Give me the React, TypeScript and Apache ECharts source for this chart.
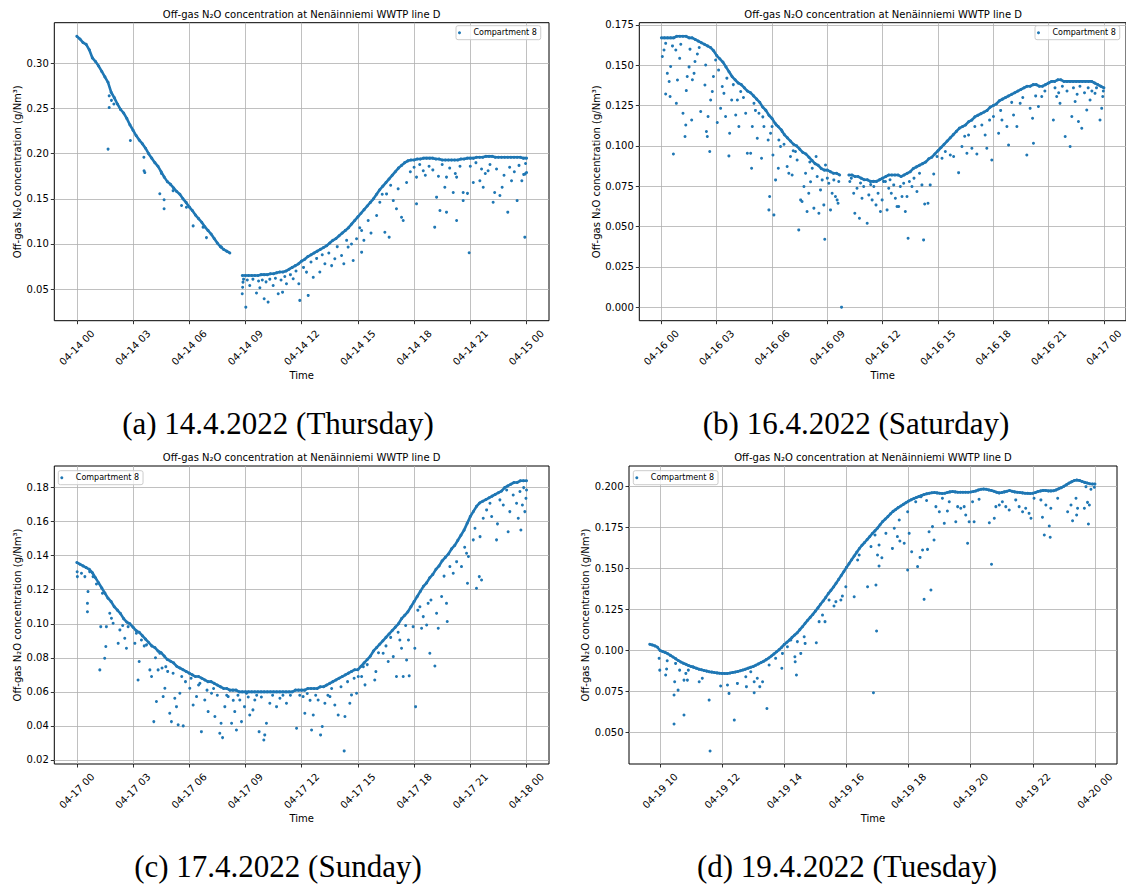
import React, { useEffect, useRef } from "react";
import * as echarts from "echarts";

// ---------------- data ----------------
const SERIES_NAME = "Compartment 8";
const TITLE = "Off-gas N\u2082O concentration at Nen\u00e4inniemi WWTP line D";
const Y_NAME = "Off-gas N\u2082O concentration (g/Nm\u00b3)";
const X_NAME = "Time";

const STEP10 = 1 / 6; // 10-minute samples, hours
const STEP5 = 1 / 12; // 5-minute samples, hours

// (a) 14.4.2022 main trace
const mainA1Start = 0;
const mainA1 = [
  0.330, 0.327, 0.323, 0.321, 0.315, 0.306,
  0.302, 0.297, 0.291, 0.285, 0.279, 0.268,
  0.262, 0.255, 0.249, 0.245, 0.239, 0.232,
  0.226, 0.220, 0.215, 0.211, 0.206, 0.200,
  0.195, 0.190, 0.186, 0.180, 0.174, 0.169,
  0.166, 0.162, 0.158, 0.155, 0.150, 0.146,
  0.141, 0.137, 0.132, 0.128, 0.124, 0.119,
  0.115, 0.111, 0.106, 0.101, 0.097, 0.094,
  0.092, 0.090,
];
const mainA2Start = 8 + 50 / 60;
const mainA2 = [
  0.065,
  0.065, 0.065, 0.065, 0.065, 0.065, 0.066,
  0.066, 0.066, 0.067, 0.067, 0.068, 0.069,
  0.069, 0.070, 0.072, 0.074, 0.076, 0.078,
  0.081, 0.083, 0.086, 0.088, 0.090, 0.092,
  0.094, 0.096, 0.098, 0.101, 0.104, 0.106,
  0.109, 0.112, 0.115, 0.118, 0.122, 0.126,
  0.130, 0.134, 0.138, 0.142, 0.146, 0.150,
  0.155, 0.160, 0.164, 0.168, 0.172, 0.176,
  0.180, 0.184, 0.187, 0.190, 0.192, 0.193,
  0.193, 0.194, 0.194, 0.195, 0.195, 0.195,
  0.195, 0.194, 0.194, 0.193, 0.193, 0.193,
  0.193, 0.193, 0.193, 0.194, 0.194, 0.195,
  0.195, 0.195, 0.196, 0.196, 0.196, 0.197,
  0.197, 0.197, 0.196, 0.196, 0.196, 0.196,
  0.196, 0.196, 0.196, 0.196, 0.196, 0.195,
  0.195,
];
const outA = [
  [1.67, 0.205], [1.73, 0.251], [1.73, 0.264], [1.85, 0.259], [1.98, 0.255], [2.86, 0.2145], [3.58, 0.196], [3.59, 0.181], [3.63, 0.179], [4.43, 0.1555], [4.52, 0.178], [4.66, 0.149], [4.66, 0.139], [5.14, 0.159], [5.59, 0.1426], [5.85, 0.1407], [6.21, 0.12], [6.74, 0.1186], [6.92, 0.107], [7.72, 0.0965],
  [8.83, 0.0448], [8.85, 0.052], [8.87, 0.0577], [8.9, 0.061], [9.02, 0.03], [9.1, 0.06], [9.23, 0.054], [9.4, 0.061], [9.59, 0.0456], [9.7, 0.059], [9.77, 0.0515], [9.9, 0.06], [10.0, 0.0393], [10.1, 0.058], [10.21, 0.0356], [10.3, 0.061], [10.48, 0.054], [10.6, 0.062], [10.75, 0.0448], [10.9, 0.06], [10.98, 0.0466], [11.1, 0.064], [11.19, 0.056], [11.4, 0.066], [11.55, 0.0614], [11.7, 0.07], [11.85, 0.056], [11.9, 0.0375], [12.1, 0.074], [12.26, 0.0688], [12.35, 0.043], [12.5, 0.08], [12.62, 0.063], [12.8, 0.084], [12.97, 0.069], [13.1, 0.088], [13.24, 0.078], [13.45, 0.09], [13.6, 0.076], [13.77, 0.0836], [13.9, 0.097], [14.13, 0.0872], [14.25, 0.078], [14.4, 0.104], [14.48, 0.0965], [14.66, 0.1], [14.75, 0.0817], [14.93, 0.1057], [15.1, 0.118], [15.2, 0.0909], [15.2, 0.1149], [15.32, 0.104], [15.55, 0.126], [15.7, 0.112], [16.0, 0.1315], [16.17, 0.1462], [16.3, 0.155], [16.44, 0.113], [16.53, 0.1554], [16.67, 0.1075], [16.75, 0.165], [16.89, 0.148], [17.06, 0.139], [17.15, 0.161], [17.33, 0.1296], [17.42, 0.126], [17.6, 0.168], [17.8, 0.18], [18.0, 0.185], [18.13, 0.1444], [18.13, 0.174], [18.3, 0.188], [18.49, 0.181], [18.6, 0.176], [18.8, 0.186], [19.0, 0.182], [19.1, 0.1186], [19.2, 0.1518], [19.3, 0.175], [19.38, 0.137], [19.5, 0.188], [19.64, 0.1628], [19.73, 0.1352], [19.73, 0.174], [19.9, 0.184], [20.09, 0.157], [20.2, 0.178], [20.27, 0.126], [20.27, 0.174], [20.45, 0.186], [20.62, 0.148], [20.62, 0.157], [20.85, 0.156], [20.94, 0.0902], [21.0, 0.186], [21.16, 0.168], [21.3, 0.19], [21.51, 0.17], [21.6, 0.183], [21.69, 0.1628], [21.8, 0.178], [21.95, 0.181], [22.05, 0.188], [22.22, 0.1462], [22.3, 0.157], [22.4, 0.183], [22.58, 0.1536], [22.7, 0.1628], [22.8, 0.176], [23.0, 0.1352], [23.1, 0.185], [23.2, 0.17], [23.35, 0.18], [23.5, 0.148], [23.6, 0.187], [23.75, 0.17], [23.85, 0.177], [23.91, 0.1075], [23.93, 0.1776], [24.0, 0.179], [23.95, 0.189],
];

// (b) 16.4.2022 main trace
const mainB1Start = 0;
const mainB1 = [
  0.167, 0.167, 0.167, 0.167, 0.167, 0.168,
  0.168, 0.168, 0.168, 0.167, 0.167, 0.166,
  0.165, 0.164, 0.163, 0.162, 0.161, 0.159,
  0.156, 0.154, 0.152, 0.149, 0.146, 0.143,
  0.141, 0.139, 0.138, 0.136, 0.134, 0.133,
  0.131, 0.129, 0.127, 0.124, 0.122, 0.119,
  0.117, 0.114, 0.112, 0.110, 0.107, 0.105,
  0.103, 0.101, 0.100, 0.098, 0.096, 0.095,
  0.093, 0.091, 0.089, 0.088, 0.086, 0.085,
  0.085, 0.084, 0.083, 0.083, 0.082,
];
const mainB2Start = 10 + 10 / 60;
const mainB2 = [
  0.082, 0.082, 0.081, 0.081, 0.080,
  0.079, 0.079, 0.078, 0.078, 0.078, 0.079,
  0.080, 0.081, 0.082, 0.082, 0.082, 0.082,
  0.081, 0.082, 0.083, 0.084, 0.086, 0.087,
  0.088, 0.089, 0.090, 0.092, 0.093, 0.095,
  0.097, 0.099, 0.101, 0.103, 0.105, 0.107,
  0.109, 0.111, 0.112, 0.113, 0.115, 0.116,
  0.118, 0.119, 0.120, 0.121, 0.122, 0.124,
  0.125, 0.126, 0.128, 0.129, 0.130, 0.131,
  0.132, 0.133, 0.134, 0.135, 0.136, 0.137,
  0.137, 0.138, 0.138, 0.137, 0.137, 0.138,
  0.139, 0.140, 0.140, 0.141, 0.141, 0.140,
  0.140, 0.140, 0.140, 0.140, 0.140, 0.140,
  0.140, 0.140, 0.140, 0.139, 0.138, 0.137,
  0.136,
];
const outB = [
  [0.05, 0.1554], [0.14, 0.1595], [0.23, 0.1636], [0.32, 0.145], [0.23, 0.1322], [0.47, 0.1306], [0.42, 0.1399], [0.5, 0.1492], [0.65, 0.095], [0.78, 0.1595], [0.81, 0.1264], [0.87, 0.1409], [0.99, 0.1543], [0.6, 0.162], [1.05, 0.163], [1.17, 0.1202], [1.28, 0.1058], [1.32, 0.113], [1.35, 0.1343], [1.4, 0.143], [1.5, 0.149], [1.55, 0.16], [1.64, 0.1161], [1.68, 0.141], [1.77, 0.145], [1.82, 0.1523], [1.95, 0.157], [2.05, 0.161], [2.13, 0.1213], [2.36, 0.1378], [2.4, 0.1502], [2.44, 0.1089], [2.49, 0.1058], [2.53, 0.1182], [2.62, 0.0965], [2.67, 0.1285], [2.76, 0.1337], [2.82, 0.143], [2.94, 0.1533], [3.03, 0.1145], [3.1, 0.147], [3.21, 0.1233], [3.3, 0.1368], [3.39, 0.1326], [3.48, 0.1182], [3.55, 0.142], [3.66, 0.0938], [3.7, 0.1078], [3.81, 0.1285], [3.9, 0.138], [4.03, 0.1192], [4.12, 0.1285], [4.2, 0.112], [4.3, 0.1337], [4.45, 0.13], [4.57, 0.1202], [4.66, 0.0954], [4.84, 0.0954], [4.89, 0.0861], [4.93, 0.112], [5.02, 0.1264], [5.1, 0.122], [5.2, 0.1047], [5.29, 0.1202], [5.43, 0.0923], [5.5, 0.118], [5.56, 0.112], [5.65, 0.1223], [5.79, 0.1037], [5.83, 0.0603], [5.87, 0.0686], [5.92, 0.1078], [6.0, 0.112], [6.05, 0.0944], [6.1, 0.0572], [6.19, 0.0789], [6.23, 0.113], [6.34, 0.0861], [6.37, 0.1037], [6.46, 0.0996], [6.55, 0.1089], [6.65, 0.101], [6.82, 0.0872], [6.91, 0.083], [7.0, 0.0934], [7.09, 0.082], [7.15, 0.097], [7.27, 0.0965], [7.36, 0.0913], [7.45, 0.0479], [7.55, 0.0665], [7.63, 0.0655], [7.73, 0.0748], [7.82, 0.083], [7.9, 0.0593], [7.99, 0.0706], [8.05, 0.09], [8.09, 0.0778], [8.18, 0.0861], [8.27, 0.0614], [8.39, 0.0934], [8.45, 0.081], [8.54, 0.0582], [8.63, 0.0727], [8.72, 0.0789], [8.81, 0.0634], [8.86, 0.0421], [8.9, 0.0882], [9.0, 0.08], [9.08, 0.0768], [9.17, 0.0603], [9.26, 0.0706], [9.35, 0.0789], [9.44, 0.0686], [9.53, 0.0665], [9.58, 0.0644], [9.62, 0.0779], [9.77, 0.0],
  [10.22, 0.0779], [10.3, 0.08], [10.43, 0.0706], [10.49, 0.0582], [10.61, 0.0737], [10.74, 0.0551], [10.8, 0.077], [10.88, 0.0675], [10.97, 0.0748], [11.16, 0.052], [11.25, 0.0696], [11.35, 0.076], [11.43, 0.0665], [11.52, 0.0748], [11.64, 0.0634], [11.75, 0.0706], [11.88, 0.0593], [11.97, 0.0665], [12.05, 0.078], [12.15, 0.0779], [12.24, 0.0603], [12.33, 0.0737], [12.4, 0.079], [12.47, 0.0706], [12.6, 0.0758], [12.69, 0.0675], [12.78, 0.0624], [12.87, 0.0624], [12.96, 0.0748], [13.05, 0.0686], [13.14, 0.0768], [13.23, 0.0593], [13.32, 0.0686], [13.38, 0.0427], [13.45, 0.0779], [13.59, 0.0748], [13.7, 0.08], [13.86, 0.0717], [14.0, 0.083], [14.13, 0.0758], [14.22, 0.0417], [14.28, 0.064], [14.46, 0.0644], [14.58, 0.0758], [14.77, 0.0826], [14.95, 0.0934], [15.22, 0.0923], [15.4, 0.0965], [15.67, 0.0944], [15.85, 0.0934], [16.12, 0.0834], [16.3, 0.0996], [16.45, 0.106], [16.57, 0.0954], [16.66, 0.1068], [16.84, 0.0985], [17.0, 0.112], [17.11, 0.095], [17.38, 0.113], [17.56, 0.1068], [17.65, 0.0985], [17.8, 0.116], [17.92, 0.0913], [18.01, 0.1182], [18.29, 0.1078], [18.4, 0.122], [18.47, 0.1161], [18.74, 0.112], [18.83, 0.1006], [19.0, 0.127], [19.1, 0.1192], [19.28, 0.112], [19.46, 0.1264], [19.6, 0.13], [19.82, 0.0944], [20.0, 0.1233], [20.13, 0.1171], [20.18, 0.1016], [20.3, 0.131], [20.45, 0.1244], [20.63, 0.1306], [20.8, 0.134], [21.26, 0.1161], [21.35, 0.136], [21.44, 0.1306], [21.55, 0.133], [21.62, 0.1264], [21.75, 0.137], [21.9, 0.1058], [22.0, 0.134], [22.17, 0.0996], [22.26, 0.1182], [22.35, 0.136], [22.44, 0.1275], [22.55, 0.132], [22.62, 0.1151], [22.7, 0.137], [22.8, 0.1109], [22.95, 0.133], [23.07, 0.1223], [23.15, 0.136], [23.25, 0.1285], [23.35, 0.134], [23.52, 0.1326], [23.6, 0.136], [23.79, 0.1161], [23.88, 0.1233], [23.94, 0.1306], [23.97, 0.134],
];

// (c) 17.4.2022 main trace
const mainCStart = 0;
const mainC = [
  0.136, 0.135, 0.134, 0.133, 0.132, 0.130,
  0.127, 0.124, 0.121, 0.118, 0.115, 0.113,
  0.110, 0.108, 0.106, 0.103, 0.101, 0.100,
  0.098, 0.096, 0.095, 0.093, 0.091, 0.089,
  0.087, 0.086, 0.084, 0.083, 0.081, 0.079,
  0.078, 0.077, 0.075, 0.074, 0.073, 0.072,
  0.071, 0.070, 0.069, 0.069, 0.068, 0.067,
  0.066, 0.066, 0.065, 0.064, 0.063, 0.062,
  0.062, 0.061, 0.061, 0.061, 0.060, 0.060,
  0.060, 0.060, 0.060, 0.060, 0.060, 0.060,
  0.060, 0.060, 0.060, 0.060, 0.060, 0.060,
  0.060, 0.060, 0.060, 0.060, 0.061, 0.061,
  0.061, 0.061, 0.062, 0.062, 0.062, 0.062,
  0.063, 0.063, 0.064, 0.065, 0.066, 0.067,
  0.068, 0.069, 0.070, 0.071, 0.072, 0.073,
  0.073, 0.075, 0.077, 0.079, 0.081, 0.084,
  0.086, 0.088, 0.090, 0.092, 0.094, 0.096,
  0.098, 0.100, 0.103, 0.105, 0.107, 0.110,
  0.113, 0.116, 0.119, 0.122, 0.124, 0.127,
  0.129, 0.132, 0.134, 0.137, 0.139, 0.141,
  0.144, 0.146, 0.149, 0.152, 0.155, 0.159,
  0.163, 0.166, 0.169, 0.171, 0.172, 0.173,
  0.174, 0.175, 0.176, 0.177, 0.178, 0.180,
  0.181, 0.182, 0.183, 0.183, 0.184, 0.184,
  0.184,
];
const outC = [
  [0.02, 0.1306], [0.03, 0.1277], [0.25, 0.1297], [0.43, 0.1277], [0.57, 0.1071], [0.57, 0.112], [0.6, 0.1189], [0.69, 0.1306], [0.87, 0.1277], [1.05, 0.1234], [1.23, 0.0729], [1.28, 0.0983], [1.37, 0.1179], [1.49, 0.0797], [1.55, 0.0866], [1.58, 0.0983], [1.76, 0.1062], [1.85, 0.1032], [1.94, 0.1003], [2.21, 0.0885], [2.3, 0.0964], [2.45, 0.099], [2.56, 0.0915], [2.65, 0.0856], [2.74, 0.0983], [3.1, 0.0885], [3.18, 0.0944], [3.27, 0.067], [3.33, 0.0778], [3.45, 0.0905], [3.6, 0.087], [3.72, 0.0876], [3.9, 0.0729], [3.99, 0.069], [4.11, 0.0425], [4.2, 0.08], [4.25, 0.0543], [4.34, 0.0729], [4.43, 0.0827], [4.55, 0.074], [4.61, 0.0572], [4.7, 0.0621], [4.75, 0.0748], [4.85, 0.072], [4.96, 0.0474], [5.05, 0.0425], [5.14, 0.0709], [5.23, 0.0562], [5.32, 0.0513], [5.41, 0.0406], [5.5, 0.0592], [5.6, 0.069], [5.68, 0.04], [5.8, 0.066], [6.03, 0.0621], [6.1, 0.068], [6.21, 0.0523], [6.39, 0.0572], [6.5, 0.064], [6.57, 0.065], [6.65, 0.0366], [6.83, 0.0552], [6.95, 0.061], [7.01, 0.0484], [7.19, 0.0592], [7.3, 0.062], [7.37, 0.0455], [7.5, 0.058], [7.63, 0.0357], [7.7, 0.0415], [7.78, 0.0331], [7.9, 0.0513], [8.0, 0.058], [8.08, 0.0572], [8.26, 0.0415], [8.35, 0.055], [8.43, 0.0484], [8.52, 0.0376], [8.6, 0.058], [8.7, 0.0552], [8.79, 0.0425], [8.95, 0.0513], [9.06, 0.0592], [9.15, 0.057], [9.23, 0.0464], [9.4, 0.0494], [9.5, 0.0552], [9.6, 0.058], [9.73, 0.0366], [9.85, 0.057], [9.98, 0.0317], [10.03, 0.0347], [10.12, 0.0415], [10.3, 0.0533], [10.45, 0.058], [10.66, 0.0513], [10.84, 0.0562], [11.0, 0.058], [11.19, 0.0533], [11.4, 0.058], [11.73, 0.0386], [11.9, 0.058], [12.08, 0.0572], [12.17, 0.0474], [12.3, 0.059], [12.45, 0.055], [12.53, 0.0376], [12.62, 0.0464], [12.75, 0.058], [12.88, 0.0552], [13.01, 0.0347], [13.1, 0.0396], [13.24, 0.0533], [13.4, 0.058], [13.51, 0.0572], [13.6, 0.062], [13.77, 0.0523], [13.95, 0.0464], [14.1, 0.063], [14.27, 0.0253], [14.31, 0.0455], [14.45, 0.066], [14.57, 0.0533], [14.66, 0.0582], [14.8, 0.068], [14.93, 0.0592], [15.02, 0.069], [15.2, 0.069], [15.29, 0.0748], [15.38, 0.0641], [15.5, 0.076], [15.96, 0.0719], [15.9, 0.067], [16.1, 0.083], [16.35, 0.0827], [16.5, 0.087], [16.62, 0.0778], [16.75, 0.092], [16.89, 0.0807], [17.06, 0.069], [17.15, 0.095], [17.24, 0.0905], [17.33, 0.0856], [17.42, 0.069], [17.55, 0.099], [17.6, 0.0787], [17.7, 0.0905], [17.74, 0.0694], [17.95, 0.0983], [18.04, 0.0856], [18.08, 0.0513], [18.2, 0.108], [18.31, 0.11], [18.4, 0.0974], [18.49, 0.1042], [18.67, 0.0993], [18.75, 0.112], [18.84, 0.0827], [18.9, 0.114], [19.11, 0.0752], [19.2, 0.1062], [19.29, 0.0974], [19.47, 0.116], [19.6, 0.128], [19.73, 0.112], [19.77, 0.1013], [19.91, 0.1336], [20.09, 0.1297], [20.27, 0.1365], [20.53, 0.1336], [20.7, 0.145], [20.8, 0.1414], [20.85, 0.1238], [20.9, 0.1395], [21.16, 0.1493], [21.25, 0.1561], [21.33, 0.1209], [21.48, 0.1277], [21.6, 0.1257], [21.52, 0.1512], [21.69, 0.162], [21.87, 0.1669], [22.05, 0.1708], [22.14, 0.163], [22.4, 0.1493], [22.45, 0.1587], [22.58, 0.1728], [22.76, 0.1698], [22.94, 0.1786], [23.02, 0.1541], [23.11, 0.1659], [23.29, 0.1757], [23.47, 0.1708], [23.56, 0.162], [23.65, 0.1777], [23.7, 0.1551], [23.78, 0.1698], [23.91, 0.1659], [23.97, 0.1737], [24.0, 0.1786], [23.85, 0.18],
];

// (d) 19.4.2022 main trace (5-minute samples)
const mainDStart = 9 + 40 / 60;
const mainD = [
  0.1036, 0.1032, 0.1026, 0.1018,
  0.0998, 0.0992, 0.0986, 0.0978, 0.0968, 0.0958, 0.0948, 0.0937, 0.0928, 0.0920, 0.0914, 0.0906,
  0.0900, 0.0895, 0.0890, 0.0884, 0.0880, 0.0876, 0.0872, 0.0868, 0.0866, 0.0863, 0.0861, 0.0859,
  0.0858, 0.0857, 0.0858, 0.0860, 0.0863, 0.0866, 0.0870, 0.0874, 0.0879, 0.0884, 0.0890, 0.0895,
  0.0900, 0.0908, 0.0916, 0.0924, 0.0932, 0.0942, 0.0952, 0.0964, 0.0977, 0.0990, 0.1003, 0.1018,
  0.1035, 0.1048, 0.1062, 0.1078, 0.1092, 0.1106, 0.1125, 0.1143, 0.1163, 0.1182, 0.1200, 0.1218,
  0.1238, 0.1258, 0.1280, 0.1300, 0.1322, 0.1345, 0.1365, 0.1385, 0.1408, 0.1432, 0.1456, 0.1480,
  0.1505, 0.1528, 0.1552, 0.1575, 0.1598, 0.1620, 0.1640, 0.1657, 0.1675, 0.1693, 0.1712, 0.1728,
  0.1745, 0.1765, 0.1785, 0.1800, 0.1815, 0.1832, 0.1847, 0.1858, 0.1870, 0.1880, 0.1890, 0.1900,
  0.1910, 0.1918, 0.1925, 0.1932, 0.1938, 0.1944, 0.1950, 0.1954, 0.1958, 0.1961, 0.1962, 0.1960,
  0.1958, 0.1956, 0.1958, 0.1962, 0.1966, 0.1968, 0.1966, 0.1964, 0.1964, 0.1964, 0.1964, 0.1964,
  0.1965, 0.1968, 0.1972, 0.1978, 0.1982, 0.1984, 0.1982, 0.1978, 0.1974, 0.1970, 0.1964, 0.1960,
  0.1962, 0.1966, 0.1970, 0.1974, 0.1970, 0.1966, 0.1964, 0.1962, 0.1960, 0.1958, 0.1957, 0.1956,
  0.1958, 0.1962, 0.1968, 0.1972, 0.1975, 0.1974, 0.1972, 0.1972, 0.1973, 0.1978, 0.1985, 0.1992,
  0.2000, 0.2010, 0.2020, 0.2028, 0.2035, 0.2038, 0.2036, 0.2030, 0.2024, 0.2020, 0.2016, 0.2014,
  0.2014,
];
const outD = [
  [9.97, 0.095], [9.99, 0.0878], [10.18, 0.0848], [10.21, 0.0885], [10.23, 0.0935], [10.45, 0.0726], [10.47, 0.0807], [10.45, 0.0549], [10.5, 0.0919], [10.58, 0.0756], [10.63, 0.0878], [10.77, 0.0604], [10.77, 0.0817], [10.83, 0.0858], [10.88, 0.0817], [10.91, 0.0878], [11.06, 0.0899], [11.26, 0.0807], [11.36, 0.0828], [11.58, 0.0695], [11.61, 0.0384], [11.95, 0.0781], [12.17, 0.0787], [12.22, 0.0736], [12.39, 0.0573], [12.49, 0.0797], [12.76, 0.0838], [12.78, 0.0777], [12.92, 0.0868], [13.03, 0.074], [13.03, 0.0807], [13.13, 0.0828], [13.21, 0.0777], [13.3, 0.0807], [13.44, 0.0644], [13.51, 0.0909], [13.72, 0.095], [13.92, 0.0889], [13.94, 0.098], [14.1, 0.1021], [14.21, 0.1062], [14.34, 0.096], [14.39, 0.0848], [14.35, 0.0929], [14.42, 0.1052], [14.53, 0.098], [14.64, 0.1082], [14.67, 0.1041], [15.03, 0.1045], [15.12, 0.1174], [15.23, 0.1214], [15.31, 0.1174], [15.44, 0.1306], [15.6, 0.1269], [15.66, 0.1296], [15.82, 0.1306], [15.87, 0.133], [15.98, 0.1387], [16.25, 0.1326], [16.36, 0.155], [16.41, 0.1581], [16.68, 0.1387], [16.79, 0.1632], [16.87, 0.074], [16.92, 0.1703], [16.95, 0.1398], [16.97, 0.1117], [17.0, 0.1581], [17.05, 0.1642], [17.05, 0.1514], [17.14, 0.1564], [17.27, 0.1713], [17.48, 0.1621], [17.54, 0.1744], [17.64, 0.1693], [17.7, 0.1794], [17.72, 0.1666], [17.86, 0.1652], [17.97, 0.1489], [17.97, 0.1845], [18.02, 0.1713], [18.1, 0.1601], [18.23, 0.1906], [18.29, 0.151], [18.37, 0.1566], [18.4, 0.1937], [18.45, 0.1611], [18.5, 0.131], [18.58, 0.1913], [18.61, 0.1615], [18.66, 0.1723], [18.72, 0.1367], [18.77, 0.1754], [18.82, 0.1672], [18.88, 0.1876], [18.99, 0.1845], [19.09, 0.1927], [19.15, 0.1774], [19.25, 0.1849], [19.31, 0.1906], [19.52, 0.1784], [19.58, 0.1876], [19.68, 0.1866], [19.79, 0.1876], [19.84, 0.1825], [19.9, 0.1652], [19.95, 0.1784], [20.06, 0.1906], [20.11, 0.1784], [20.27, 0.1921], [20.6, 0.1778], [20.67, 0.1524], [20.76, 0.1805], [20.81, 0.1876], [20.92, 0.1886], [21.02, 0.1906], [21.13, 0.1876], [21.24, 0.1855], [21.45, 0.1917], [21.56, 0.1876], [21.67, 0.1845], [21.77, 0.1866], [21.88, 0.1835], [21.94, 0.1805], [22.04, 0.1927], [22.26, 0.1917], [22.31, 0.1811], [22.37, 0.1703], [22.42, 0.1886], [22.53, 0.1758], [22.56, 0.1689], [22.58, 0.1866], [22.8, 0.1927], [23.12, 0.1845], [23.23, 0.1886], [23.28, 0.179], [23.39, 0.1927], [23.41, 0.1825], [23.44, 0.1866], [23.66, 0.1866], [23.71, 0.1998], [23.76, 0.1902], [23.79, 0.177], [23.82, 0.1886], [23.87, 0.1982], [23.98, 0.1994],
];

// ticks and labels
const xTicksDay = [0, 3, 6, 9, 12, 15, 18, 21, 24];
const xLabelsA = ["04-14 00", "04-14 03", "04-14 06", "04-14 09", "04-14 12", "04-14 15", "04-14 18", "04-14 21", "04-15 00"];
const xLabelsB = ["04-16 00", "04-16 03", "04-16 06", "04-16 09", "04-16 12", "04-16 15", "04-16 18", "04-16 21", "04-17 00"];
const xLabelsC = ["04-17 00", "04-17 03", "04-17 06", "04-17 09", "04-17 12", "04-17 15", "04-17 18", "04-17 21", "04-18 00"];
const xTicksD = [10, 12, 14, 16, 18, 20, 22, 24];
const xLabelsD = ["04-19 10", "04-19 12", "04-19 14", "04-19 16", "04-19 18", "04-19 20", "04-19 22", "04-20 00"];

const yTicksA = [0.05, 0.1, 0.15, 0.2, 0.25, 0.3];
const yLabelsA = ["0.05", "0.10", "0.15", "0.20", "0.25", "0.30"];
const yTicksB = [0, 0.025, 0.05, 0.075, 0.1, 0.125, 0.15, 0.175];
const yLabelsB = ["0.000", "0.025", "0.050", "0.075", "0.100", "0.125", "0.150", "0.175"];
const yTicksC = [0.02, 0.04, 0.06, 0.08, 0.1, 0.12, 0.14, 0.16, 0.18];
const yLabelsC = ["0.02", "0.04", "0.06", "0.08", "0.10", "0.12", "0.14", "0.16", "0.18"];
const yTicksD = [0.05, 0.075, 0.1, 0.125, 0.15, 0.175, 0.2];
const yLabelsD = ["0.050", "0.075", "0.100", "0.125", "0.150", "0.175", "0.200"];

const captions = [
  "(a) 14.4.2022 (Thursday)",
  "(b) 16.4.2022 (Saturday)",
  "(c) 17.4.2022 (Sunday)",
  "(d) 19.4.2022 (Tuesday)",
];

// ---------------- helpers ----------------
const sampled = (start: number, step: number, vals: number[]) =>
  vals.map((v, i) => [start + i * step, v]);

const lookup = (ticks: number[], labels: string[]) => (v: number) => {
  const i = ticks.findIndex((t) => Math.abs(t - v) < 1e-6);
  return i >= 0 ? labels[i] : "";
};

const SANS = "DejaVu Sans";
const SERIF = "Liberation Serif";
const BLUE = "#1f77b4";

const traceA1 = sampled(mainA1Start, STEP10, mainA1);
const traceA2 = sampled(mainA2Start, STEP10, mainA2);
const traceB1 = sampled(mainB1Start, STEP10, mainB1);
const traceB2 = sampled(mainB2Start, STEP10, mainB2);
const traceC = sampled(mainCStart, STEP10, mainC);
const traceD = sampled(mainDStart, STEP5, mainD);

const panels = [
  {
    traces: [traceA1, traceA2], extra: outA,
    grid: { left: 54.3, top: 22.7, width: 494.7, height: 298 },
    x: [-1.2, 25.2], y: [0.015, 0.345],
    xTicks: xTicksDay, xLabels: xLabelsA, yTicks: yTicksA, yLabels: yLabelsA,
    yGap: 32, legend: { left: 456, top: 25.7 }, cap: { x: 278, y: 423 },
  },
  {
    traces: [traceB1, traceB2], extra: outB,
    grid: { left: 639.3, top: 22.7, width: 487.7, height: 298 },
    x: [-1.2, 25.2], y: [-0.0084, 0.1764],
    xTicks: xTicksDay, xLabels: xLabelsB, yTicks: yTicksB, yLabels: yLabelsB,
    yGap: 38, legend: { left: 1035, top: 25.7 }, cap: { x: 856, y: 423 },
  },
  {
    traces: [traceC], extra: outC,
    grid: { left: 54.3, top: 466, width: 494.7, height: 298 },
    x: [-1.2, 25.2], y: [0.0176, 0.1927],
    xTicks: xTicksDay, xLabels: xLabelsC, yTicks: yTicksC, yLabels: yLabelsC,
    yGap: 32, legend: { left: 58.3, top: 470.7 }, cap: { x: 278, y: 866 },
  },
  {
    traces: [traceD], extra: outD,
    grid: { left: 629, top: 466, width: 488, height: 298 },
    x: [9.0, 24.71], y: [0.0305, 0.2124],
    xTicks: xTicksD, xLabels: xLabelsD, yTicks: yTicksD, yLabels: yLabelsD,
    yGap: 38, legend: { left: 633.3, top: 470.7 }, cap: { x: 847, y: 866 },
  },
];

function buildOption() {
  const text = (x: number, y: number, t: string, size: number, family: string) => ({
    type: "text",
    x,
    y,
    silent: true,
    style: {
      text: t,
      fill: "#000",
      fontSize: size,
      fontFamily: family,
      align: "center",
      verticalAlign: "middle",
      textAlign: "center",
      textVerticalAlign: "middle",
    },
  });

  const series: any[] = [];
  panels.forEach((p, i) => {
    p.traces.forEach((tr) => {
      series.push({
        type: "line",
        name: "trace",
        xAxisIndex: i,
        yAxisIndex: i,
        data: tr,
        showSymbol: false,
        symbol: "none",
        lineStyle: { color: BLUE, width: 2.6 },
        itemStyle: { color: BLUE },
        emphasis: { disabled: true },
        silent: true,
        clip: true,
        z: 2,
      });
    });
    series.push({
      type: "scatter",
      name: SERIES_NAME,
      xAxisIndex: i,
      yAxisIndex: i,
      data: [...p.traces.flat(), ...p.extra],
      symbol: "circle",
      symbolSize: 3,
      itemStyle: { color: BLUE, opacity: 1 },
      emphasis: { disabled: true },
      silent: true,
      clip: true,
      z: 3,
    });
  });

  return {
    animation: false,
    backgroundColor: "#fff",
    grid: panels.map((p) => ({
      ...p.grid,
      show: true,
      borderColor: "#000",
      borderWidth: 1,
      backgroundColor: "#fff",
      containLabel: false,
    })),
    xAxis: panels.map((p, i) => ({
      type: "value",
      gridIndex: i,
      min: p.x[0],
      max: p.x[1],
      name: X_NAME,
      nameLocation: "middle",
      nameGap: 49,
      nameTextStyle: { fontFamily: SANS, fontSize: 10, color: "#000" },
      axisLine: { show: false, onZero: false },
      axisTick: { show: true, customValues: p.xTicks, length: 3.5, lineStyle: { color: "#000", width: 0.8 } },
      axisLabel: {
        customValues: p.xTicks,
        rotate: 45,
        align: "center",
        verticalAlign: "middle",
        margin: 27,
        fontFamily: SANS,
        fontSize: 10,
        color: "#000",
        formatter: lookup(p.xTicks, p.xLabels),
      },
      splitLine: { show: true, lineStyle: { color: "#b0b0b0", width: 0.8 } },
    })),
    yAxis: panels.map((p, i) => ({
      type: "value",
      gridIndex: i,
      min: p.y[0],
      max: p.y[1],
      name: Y_NAME,
      nameLocation: "middle",
      nameRotate: 90,
      nameGap: p.yGap,
      nameTextStyle: { fontFamily: SANS, fontSize: 10, color: "#000" },
      axisLine: { show: false, onZero: false },
      axisTick: { show: true, customValues: p.yTicks, length: 3.5, lineStyle: { color: "#000", width: 0.8 } },
      axisLabel: {
        customValues: p.yTicks,
        margin: 5.5,
        fontFamily: SANS,
        fontSize: 10,
        color: "#000",
        formatter: lookup(p.yTicks, p.yLabels),
      },
      splitLine: { show: true, lineStyle: { color: "#b0b0b0", width: 0.8 } },
    })),
    legend: panels.map((p) => ({
      data: [SERIES_NAME],
      left: p.legend.left,
      top: p.legend.top,
      orient: "vertical",
      icon: "circle",
      itemWidth: 18,
      itemHeight: 3,
      padding: [2, 4, 2, 2],
      borderColor: "#cccccc",
      borderWidth: 1,
      borderRadius: 2,
      backgroundColor: "rgba(255,255,255,0.8)",
      selectedMode: false,
      textStyle: { fontFamily: SANS, fontSize: 8, color: "#000", lineHeight: 10 },
    })),
    series,
    graphic: [
      ...panels.map((p) => text(p.grid.left + p.grid.width / 2, p.grid.top - 8.4, TITLE, 10, SANS)),
      ...panels.map((p, i) => text(p.cap.x, p.cap.y, captions[i], 31, SERIF)),
    ],
  };
}

export default function App() {
  const ref = useRef<HTMLDivElement>(null);
  useEffect(() => {
    if (!ref.current) return;
    const chart = echarts.init(ref.current, undefined, { renderer: "svg" });
    chart.setOption(buildOption() as any);
    return () => chart.dispose();
  }, []);
  return (
    <div
      ref={ref}
      style={{ position: "absolute", left: 0, top: 0, width: 1126, height: 884, background: "#fff" }}
    />
  );
}
